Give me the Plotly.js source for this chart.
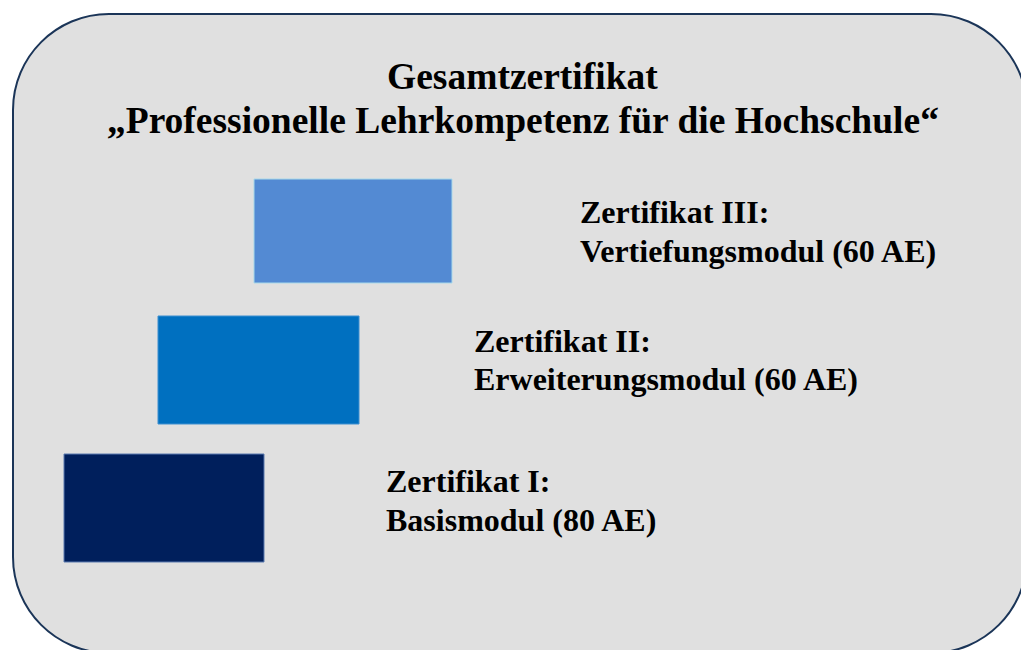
<!DOCTYPE html>
<html>
<head>
<meta charset="utf-8">
<script src="https://cdn.plot.ly/plotly-3.0.1.min.js"></script>
<style>html,body{margin:0;padding:0;background:#fff;}#chart{width:1021px;height:650px;}</style>
</head>
<body>
<div id="chart"></div>
<script>
// ---- content ----
const titleLines = ["Gesamtzertifikat", "\u201EProfessionelle Lehrkompetenz f\u00FCr die Hochschule\u201C"];
const certNames = ["Zertifikat I:", "Zertifikat II:", "Zertifikat III:"];
const moduleNames = ["Basismodul", "Erweiterungsmodul", "Vertiefungsmodul"];
const moduleHours = [80, 60, 60];
const levels = [0, 1, 2];

// ---- layout / style ----
const W = 1021, H = 650;
const boxColors = ["#001f5c", "#0070c0", "#538ad3"];
const boxLine = ["#5a7bb0", "#3d8fd0", "#a9d9ea"];
const boxLeft = [64, 158, 254];
const boxTop = [454, 316, 179];
const boxW = [200, 201, 198];
const boxH = [108, 108, 104];
const textX = [384, 472, 578];
const baseLine1 = [492, 352, 223];
const baseLine2 = [531, 390, 262];
const titleBase = [89, 133];
const titleSize = 37.5, bodySize = 32;
const fam = 'Liberation Serif, Times New Roman, serif';

function roundRect(x0, y0, x1, y1, r) {
  const k = 0.5523 * r;
  return `M ${x0 + r} ${y0} L ${x1 - r} ${y0} ` +
    `C ${x1 - r + k} ${y0} ${x1} ${y0 + r - k} ${x1} ${y0 + r} ` +
    `L ${x1} ${y1 - r} ` +
    `C ${x1} ${y1 - r + k} ${x1 - r + k} ${y1} ${x1 - r} ${y1} ` +
    `L ${x0 + r} ${y1} ` +
    `C ${x0 + r - k} ${y1} ${x0} ${y1 - r + k} ${x0} ${y1 - r} ` +
    `L ${x0} ${y0 + r} ` +
    `C ${x0} ${y0 + r - k} ${x0 + r - k} ${y0} ${x0 + r} ${y0} Z`;
}

const shapes = [{
  type: 'path', xref: 'x', yref: 'y',
  path: roundRect(13, 14, 1027, 653, 96),
  fillcolor: '#e0e0e0',
  line: {color: '#1b3558', width: 2},
  layer: 'below'
}];

levels.forEach(i => {
  shapes.push({
    type: 'rect', xref: 'x', yref: 'y',
    x0: boxLeft[i], x1: boxLeft[i] + boxW[i],
    y0: boxTop[i], y1: boxTop[i] + boxH[i],
    fillcolor: boxColors[i],
    line: {color: boxLine[i], width: 1}
  });
});

function txt(text, x, base, size, anchor) {
  return {
    xref: 'x', yref: 'y', showarrow: false,
    x: x, y: base - 0.34 * size, xanchor: anchor, yanchor: 'middle',
    text: text,
    font: {family: fam, size: size, color: '#000', weight: 'bold'}
  };
}

const annotations = [
  txt(titleLines[0], 522, titleBase[0], titleSize, 'center'),
  txt(titleLines[1], 523, titleBase[1], titleSize, 'center')
];

levels.forEach(i => {
  annotations.push(txt(certNames[i], textX[i], baseLine1[i], bodySize, 'left'));
  annotations.push(txt(moduleNames[i] + ' (' + moduleHours[i] + ' AE)', textX[i], baseLine2[i], bodySize, 'left'));
});

const layout = {
  width: W, height: H,
  margin: {l: 0, r: 0, t: 0, b: 0},
  paper_bgcolor: '#ffffff', plot_bgcolor: '#ffffff',
  xaxis: {range: [0, W], visible: false, fixedrange: true},
  yaxis: {range: [H, 0], visible: false, fixedrange: true},
  showlegend: false,
  shapes: shapes,
  annotations: annotations
};

Plotly.newPlot('chart', [{x: [], y: [], type: 'scatter', hoverinfo: 'skip'}], layout, {displayModeBar: false, staticPlot: true});
</script>
</body>
</html>
